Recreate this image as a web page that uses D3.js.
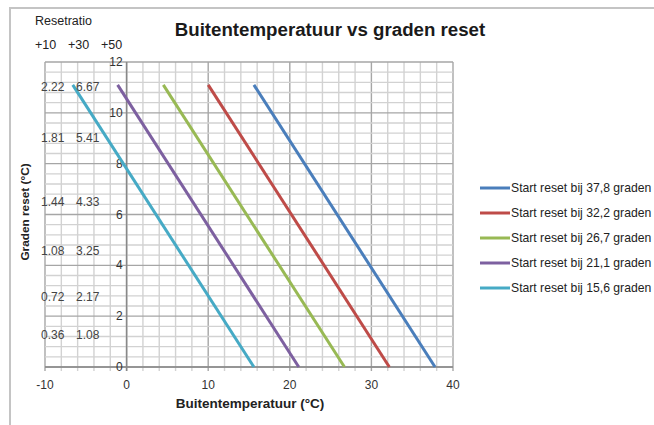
<!DOCTYPE html>
<html>
<head>
<meta charset="utf-8">
<script src="https://cdn.jsdelivr.net/npm/d3@7"></script>
<style>
  body { margin: 0; background: #fff; }
  text { font-family: "Liberation Sans", Arial, sans-serif; }
</style>
</head>
<body>
<div id="chart"></div>
<script>
// start temperatures of each reset curve (°C) and the reset amount at the top
var seriesNames = ['Start reset bij 37,8 graden', 'Start reset bij 32,2 graden', 'Start reset bij 26,7 graden', 'Start reset bij 21,1 graden', 'Start reset bij 15,6 graden']
var startTemps = [37.8, 32.2, 26.7, 21.1, 15.6]
var endTemps = [15.6, 10.0, 4.5, -1.1, -6.6]
var maxReset = 11.1
var colors = ['#4a7ebb', '#be4b48', '#98b954', '#7d60a0', '#46aac5']

var xTicks = [-10, 0, 10, 20, 30, 40]
var yTicks = [0, 2, 4, 6, 8, 10, 12]

// reset ratio table on the left
var ratioHeads = ['+10', '+30', '+50']
var ratioA = ['2.22', '1.81', '1.44', '1.08', '0.72', '0.36']
var ratioB = ['6.67', '5.41', '4.33', '3.25', '2.17', '1.08']
var ratioLevel = [11.0, 9.0, 6.5, 4.55, 2.75, 1.25]

var W = 654, H = 425

var svg = d3.select('#chart').append('svg')
    .attr('width', W)
    .attr('height', H)

// outer frame
svg.append('rect')
    .attr('x', 10).attr('y', 8)
    .attr('width', W).attr('height', H)
    .attr('fill', 'none')
    .attr('stroke', '#c4c4c4')
    .attr('stroke-width', 2)

var x = d3.scaleLinear().domain([-10, 40]).range([45, 453])
var y = d3.scaleLinear().domain([0, 12]).range([367, 62])

// grid: minor every 2 deg / 0.4 reset, major every 10 / 2
var grid = svg.append('g')
grid.selectAll('.vminor')
    .data(d3.range(-10, 40.01, 2))
    .enter().append('line')
    .attr('x1', d => x(d)).attr('x2', d => x(d))
    .attr('y1', y(12)).attr('y2', y(0) + 4)
    .attr('stroke', d => d % 10 === 0 ? '#a6a6a6' : '#d2d2d2')
    .attr('stroke-width', 1.4)
grid.selectAll('.hminor')
    .data(d3.range(0, 60).map(i => i * 0.4).filter(d => d <= 12.001))
    .enter().append('line')
    .attr('x1', x(-10)).attr('x2', x(40))
    .attr('y1', d => y(d)).attr('y2', d => y(d))
    .attr('stroke', d => Math.abs(d / 2 - Math.round(d / 2)) < 0.001 ? '#a6a6a6' : '#d2d2d2')
    .attr('stroke-width', 1.4)

// axis lines
svg.append('line')
    .attr('x1', x(0)).attr('x2', x(0))
    .attr('y1', y(12)).attr('y2', y(0) + 4)
    .attr('stroke', '#888').attr('stroke-width', 1.5)
svg.append('line')
    .attr('x1', x(-10)).attr('x2', x(40))
    .attr('y1', y(0)).attr('y2', y(0))
    .attr('stroke', '#888').attr('stroke-width', 1.5)

// x tick labels
svg.selectAll('.xt')
    .data(xTicks)
    .enter().append('text')
    .attr('x', d => x(d))
    .attr('y', 389)
    .attr('text-anchor', 'middle')
    .attr('font-size', '12px')
    .attr('fill', '#333')
    .text(d => d)

// y tick labels
svg.selectAll('.yt')
    .data(yTicks)
    .enter().append('text')
    .attr('x', x(0) - 4)
    .attr('y', d => y(d) + 4)
    .attr('text-anchor', 'end')
    .attr('font-size', '12px')
    .attr('fill', '#333')
    .text(d => d)

// reset curves
var line = d3.line().x(d => x(d[0])).y(d => y(d[1]))
startTemps.forEach(function(s, i){
    svg.append('path')
        .attr('d', line([[endTemps[i], maxReset], [s, 0]]))
        .attr('fill', 'none')
        .attr('stroke', colors[i])
        .attr('stroke-width', 3)
})

// ratio table
svg.append('text')
    .attr('x', 35).attr('y', 25)
    .attr('font-size', '12.5px')
    .attr('fill', '#222')
    .text('Resetratio')
svg.selectAll('.rh')
    .data(ratioHeads)
    .enter().append('text')
    .attr('x', (d, i) => 35 + i * 33)
    .attr('y', 49)
    .attr('font-size', '12.5px')
    .attr('fill', '#222')
    .text(d => d)
svg.selectAll('.ra')
    .data(ratioA)
    .enter().append('text')
    .attr('x', 41)
    .attr('y', (d, i) => y(ratioLevel[i]) + 4)
    .attr('font-size', '12px')
    .attr('fill', '#444')
    .text(d => d)
svg.selectAll('.rb')
    .data(ratioB)
    .enter().append('text')
    .attr('x', 76)
    .attr('y', (d, i) => y(ratioLevel[i]) + 4)
    .attr('font-size', '12px')
    .attr('fill', '#444')
    .text(d => d)

// titles
svg.append('text')
    .attr('x', 330).attr('y', 36)
    .attr('text-anchor', 'middle')
    .attr('font-size', '18.7px')
    .attr('font-weight', 'bold')
    .attr('fill', '#1a1a1a')
    .text('Buitentemperatuur vs graden reset')
svg.append('text')
    .attr('x', 250).attr('y', 408)
    .attr('text-anchor', 'middle')
    .attr('font-size', '13.5px')
    .attr('font-weight', 'bold')
    .attr('fill', '#222')
    .text('Buitentemperatuur (°C)')
svg.append('g')
    .attr('transform', 'translate(29,212) rotate(-90)')
    .append('text')
    .attr('text-anchor', 'middle')
    .attr('font-size', '11.8px')
    .attr('font-weight', 'bold')
    .attr('fill', '#222')
    .text('Graden reset (°C)')

// legend
var legend = svg.append('g').attr('transform', 'translate(480,188)')
seriesNames.forEach(function(name, i){
    var row = legend.append('g').attr('transform', 'translate(0,' + i * 25 + ')')
    row.append('line')
        .attr('x1', 0).attr('x2', 30)
        .attr('stroke', colors[i])
        .attr('stroke-width', 3)
    row.append('text')
        .attr('x', 31).attr('y', 4)
        .attr('font-size', '12.2px')
        .attr('fill', '#222')
        .text(name)
})
</script>
</body>
</html>
